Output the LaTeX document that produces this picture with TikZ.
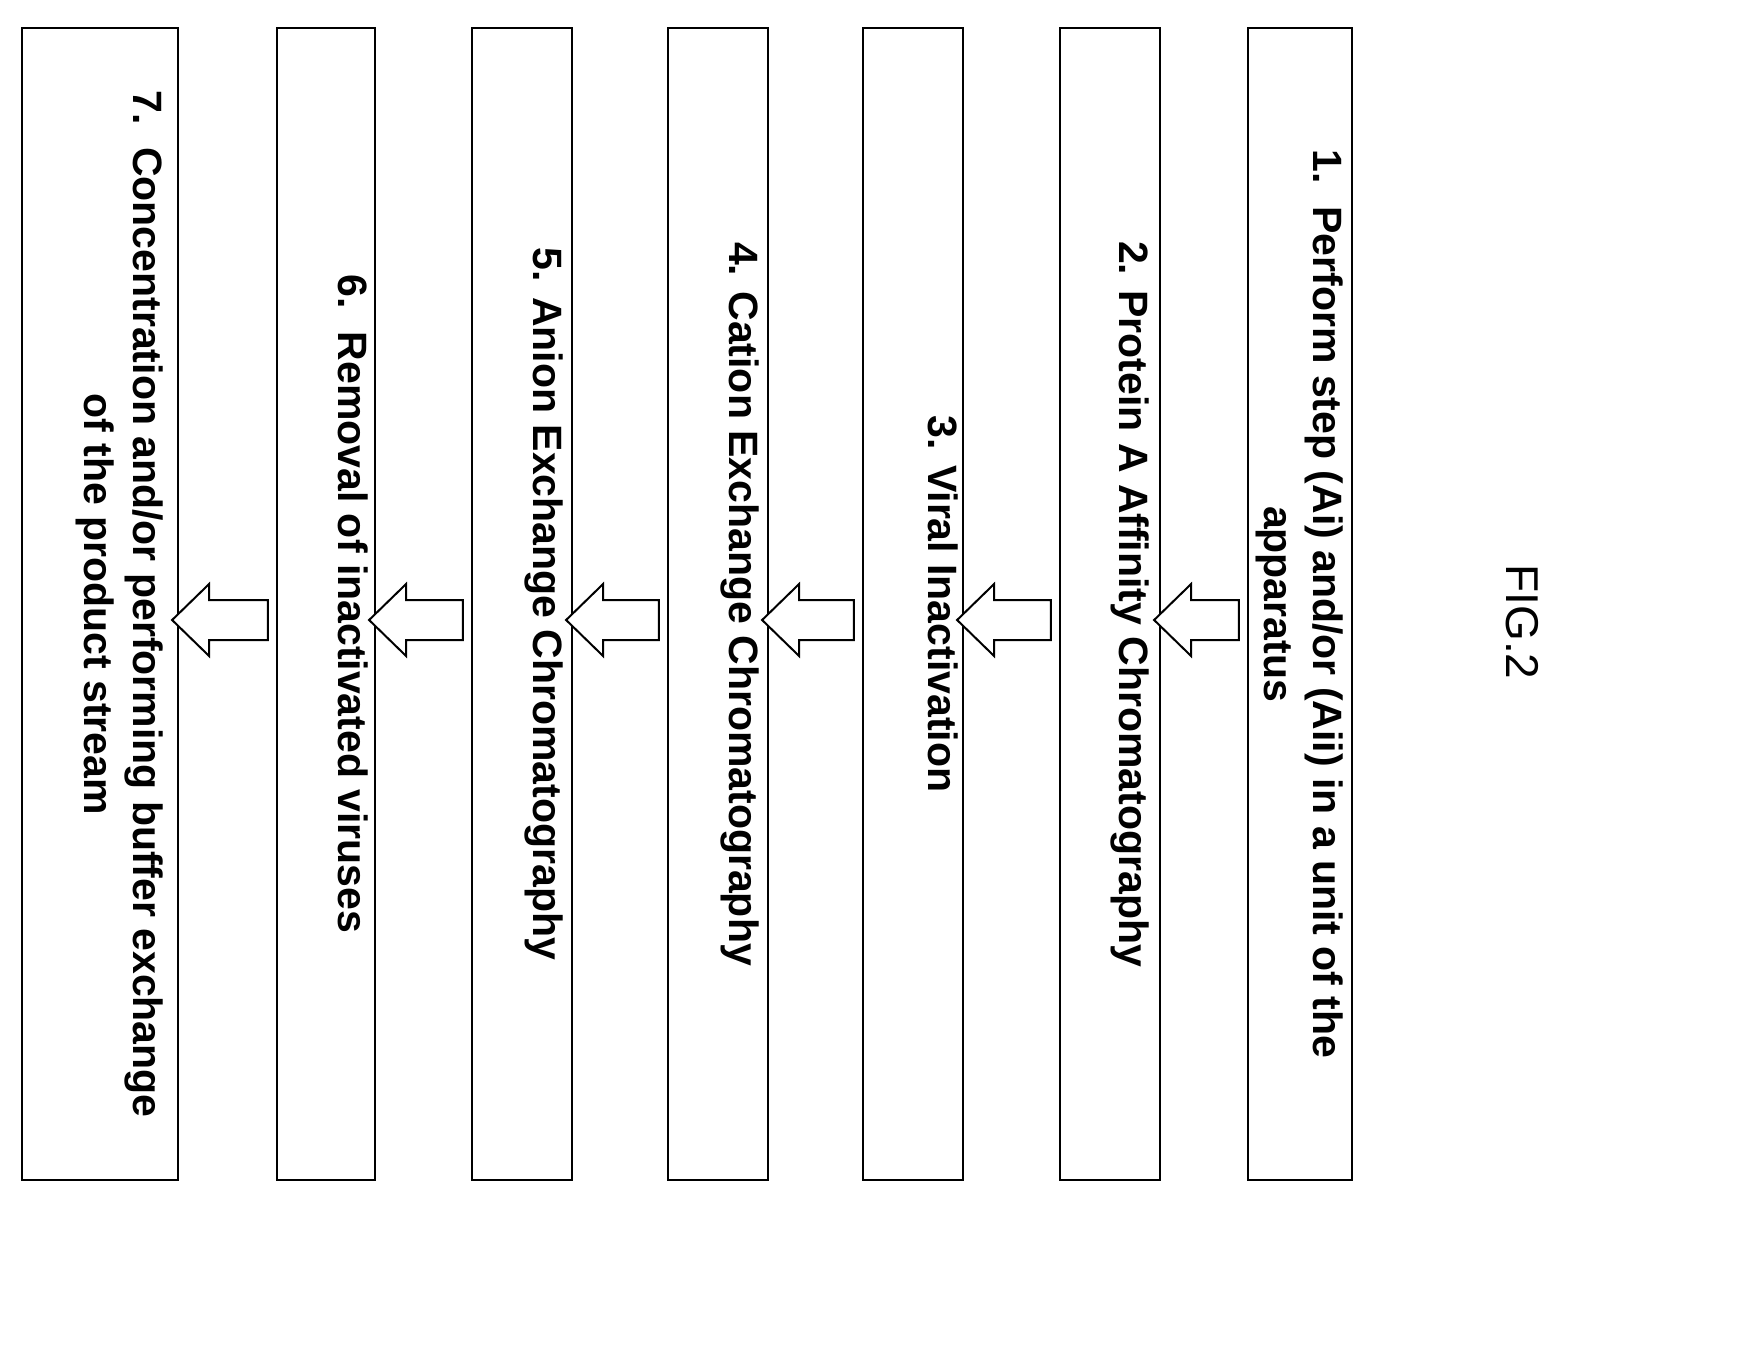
\documentclass[tikz,border=0pt]{standalone}
\usepackage{fontspec}
\setmainfont{Liberation Sans}
\usetikzlibrary{calc}
\tikzset{x=1pt, y=-1pt,
every box/.style={draw, line width=2.2pt, minimum height=1152pt, inner sep=0pt},
steptext/.style={rotate=-90, anchor=north, align=center, inner sep=0pt,
  font=\fontsize{41}{49}\selectfont\bfseries},
blockarrow/.style={draw, line width=2pt, fill=white}}
\begin{document}
\begin{tikzpicture}
    \useasboundingbox (0,0) rectangle (1764,1350);
    \coordinate (mid) at (0,620);

    % process boxes
    \node[every box, minimum width=104pt] (b1) at (1300,604) {};
    \node[every box, minimum width=100pt] (b2) at (1110,604) {};
    \node[every box, minimum width=100pt] (b3) at (913,604) {};
    \node[every box, minimum width=100pt] (b4) at (718,604) {};
    \node[every box, minimum width=100pt] (b5) at (522,604) {};
    \node[every box, minimum width=98pt] (b6) at (326,604) {};
    \node[every box, minimum width=156pt] (b7) at (100,604) {};

    \node[steptext] (t1) at ($(b1.east)+(-10,0)$) {1.\ \ Perform step (Ai) and/or (Aii) in a unit of the\\apparatus};
    \node[steptext] (t2) at ($(b2.east)+(-12,0)$) {2. Protein A Affinity Chromatography};
    \node[steptext] (t3) at ($(b3.east)+(-6,0)$) {3. Viral Inactivation};
    \node[steptext] (t4) at ($(b4.east)+(-10,0)$) {4. Cation Exchange Chromatography};
    \node[steptext] (t5) at ($(b5.east)+(-10,0)$) {5. Anion Exchange Chromatography};
    \node[steptext] (t6) at ($(b6.east)+(-8,0)$) {6.\ \ Removal of inactivated viruses};
    \node[steptext] (t7) at ($(b7.east)+(-16,0)$) {7.\ \ Concentration and/or performing buffer exchange\\of the product stream};

    % hollow arrows between steps
    \foreach \a/\b in {1/2,2/3,3/4,4/5,5/6,6/7}{
      \draw[blockarrow]
        ($(b\a.west|-mid)+(-8,-20)$) -- ($(b\b.east|-mid)+(30,-20)$)
        -- ($(b\b.east|-mid)+(30,-36)$) -- ($(b\b.east|-mid)+(-7,0)$)
        -- ($(b\b.east|-mid)+(30,36)$) -- ($(b\b.east|-mid)+(30,20)$)
        -- ($(b\a.west|-mid)+(-8,20)$) -- cycle;
    }

    \node[rotate=-90, font=\fontsize{46}{52}\selectfont] (fig) at (1522,622) {FIG.2};
\end{tikzpicture}
\end{document}
